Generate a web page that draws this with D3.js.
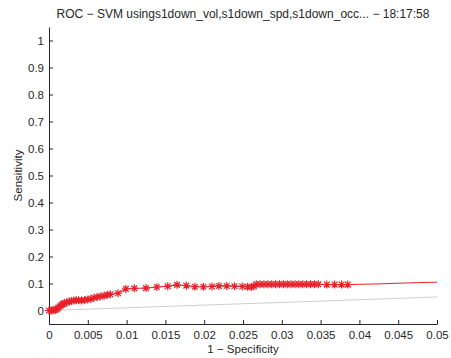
<!DOCTYPE html>
<html>
<head>
<meta charset="utf-8">
<script src="https://cdn.jsdelivr.net/npm/d3@7"></script>
<style>
  html, body { margin: 0; padding: 0; background: #fff; }
  svg { display: block; font-family: "Liberation Sans", Arial, sans-serif; }
</style>
</head>
<body>
<svg id="chart" width="451" height="358"></svg>
<script>
// ROC operating points (1 - specificity, sensitivity) with markers
const fpr = [0, 0.0003, 0.0005, 0.0008, 0.001, 0.0012, 0.0014, 0.0016, 0.0018, 0.002,
  0.0023, 0.0026, 0.0029, 0.0032, 0.0035, 0.0038, 0.0042, 0.0046, 0.005, 0.0054,
  0.0058, 0.0062, 0.0066, 0.0071, 0.0075, 0.0079, 0.0089, 0.0099, 0.011, 0.0125,
  0.0139, 0.0153, 0.0165, 0.0177, 0.0188, 0.0199, 0.021, 0.0219, 0.0229, 0.0239,
  0.0249, 0.0256, 0.0261, 0.0264, 0.0267, 0.0272, 0.0277, 0.0282, 0.0287, 0.0292,
  0.0297, 0.0302, 0.0307, 0.0312, 0.0317, 0.0322, 0.0327, 0.0332, 0.0337, 0.0342,
  0.0347, 0.0358, 0.0368, 0.0377, 0.0385];
const tpr = [0, 0, 0.001, 0.002, 0.005, 0.01, 0.015, 0.02, 0.024, 0.028,
  0.03, 0.033, 0.035, 0.037, 0.038, 0.038, 0.037, 0.039, 0.041, 0.043,
  0.047, 0.05, 0.052, 0.055, 0.058, 0.06, 0.064, 0.08, 0.082, 0.083,
  0.087, 0.09, 0.095, 0.092, 0.088, 0.088, 0.089, 0.091, 0.091, 0.09,
  0.089, 0.088, 0.087, 0.09, 0.097, 0.097, 0.097, 0.097, 0.097, 0.097,
  0.097, 0.097, 0.097, 0.097, 0.097, 0.097, 0.097, 0.097, 0.097, 0.097,
  0.097, 0.096, 0.096, 0.096, 0.096];
// Curve continuation without markers
const tailFpr = [0.0385, 0.043, 0.046, 0.05];
const tailTpr = [0.096, 0.099, 0.102, 0.105];
// Chance line
const chanceFpr = [0, 0.05];
const chanceTpr = [0, 0.05];

const xTicks = [0, 0.005, 0.01, 0.015, 0.02, 0.025, 0.03, 0.035, 0.04, 0.045, 0.05];
const yTicks = [0, 0.1, 0.2, 0.3, 0.4, 0.5, 0.6, 0.7, 0.8, 0.9, 1];
const titleText = "ROC \u2212 SVM usings1down_vol,s1down_spd,s1down_occ... \u2212 18:17:58";
const xLabel = "1 \u2212 Specificity";
const yLabel = "Sensitivity";

const svg = d3.select("#chart");
const plotLeft = 49, plotRight = 437, plotTop = 27, plotBottom = 324;

const x = d3.scaleLinear().domain([0, 0.05]).range([plotLeft, plotRight]);
const y = d3.scaleLinear().domain([-0.05, 1.05]).range([plotBottom, plotTop]);

const fmt = v => (v === 0 ? "0" : String(+v.toFixed(3)));

// Axes (ticks drawn inward)
const xAxis = svg.append("g").attr("transform", `translate(0,${plotBottom})`)
  .call(d3.axisBottom(x).tickValues(xTicks).tickFormat(fmt).tickSizeInner(-4).tickSizeOuter(0).tickPadding(7));
const yAxis = svg.append("g").attr("transform", `translate(${plotLeft},0)`)
  .call(d3.axisLeft(y).tickValues(yTicks).tickFormat(fmt).tickSizeInner(-4).tickSizeOuter(0).tickPadding(5));

[xAxis, yAxis].forEach(g => {
  g.select(".domain").attr("stroke", "#262626").attr("stroke-width", 1);
  g.selectAll(".tick line").attr("stroke", "#262626");
  g.selectAll(".tick text").attr("fill", "#262626").attr("font-size", 11.5)
    .attr("font-family", "Liberation Sans, Arial, sans-serif");
});

// Chance diagonal
const line = d3.line().x(d => x(d[0])).y(d => y(d[1]));
svg.append("path")
  .datum(d3.zip(chanceFpr, chanceTpr))
  .attr("d", line).attr("fill", "none").attr("stroke", "#cfcfcf").attr("stroke-width", 1);

// ROC curve
const pts = d3.zip(fpr, tpr);
svg.append("path")
  .datum(pts.concat(d3.zip(tailFpr, tailTpr).slice(1)))
  .attr("d", line).attr("fill", "none").attr("stroke", "#e8202a").attr("stroke-width", 1);

// Asterisk markers
const r = 4;
const star = svg.append("g").attr("stroke", "#e8202a").attr("stroke-width", 1.2).attr("fill", "none");
star.selectAll("path.m").data(pts).join("path").attr("class", "m")
  .attr("d", d => {
    const cx = x(d[0]), cy = y(d[1]), k = r * 0.72;
    return `M${cx - r},${cy}H${cx + r}M${cx},${cy - r}V${cy + r}` +
      `M${cx - k},${cy - k}L${cx + k},${cy + k}M${cx - k},${cy + k}L${cx + k},${cy - k}`;
  });

// Title and axis labels
svg.append("text").attr("x", (plotLeft + plotRight) / 2).attr("y", 18).attr("text-anchor", "middle")
  .attr("font-size", 12).attr("fill", "#262626").text(titleText);
svg.append("text").attr("x", (plotLeft + plotRight) / 2).attr("y", 353).attr("text-anchor", "middle")
  .attr("font-size", 11.5).attr("fill", "#262626").text(xLabel);
svg.append("text").attr("transform", `translate(22,${(plotTop + plotBottom) / 2}) rotate(-90)`)
  .attr("text-anchor", "middle").attr("font-size", 11.5).attr("fill", "#262626").text(yLabel);
</script>
</body>
</html>
